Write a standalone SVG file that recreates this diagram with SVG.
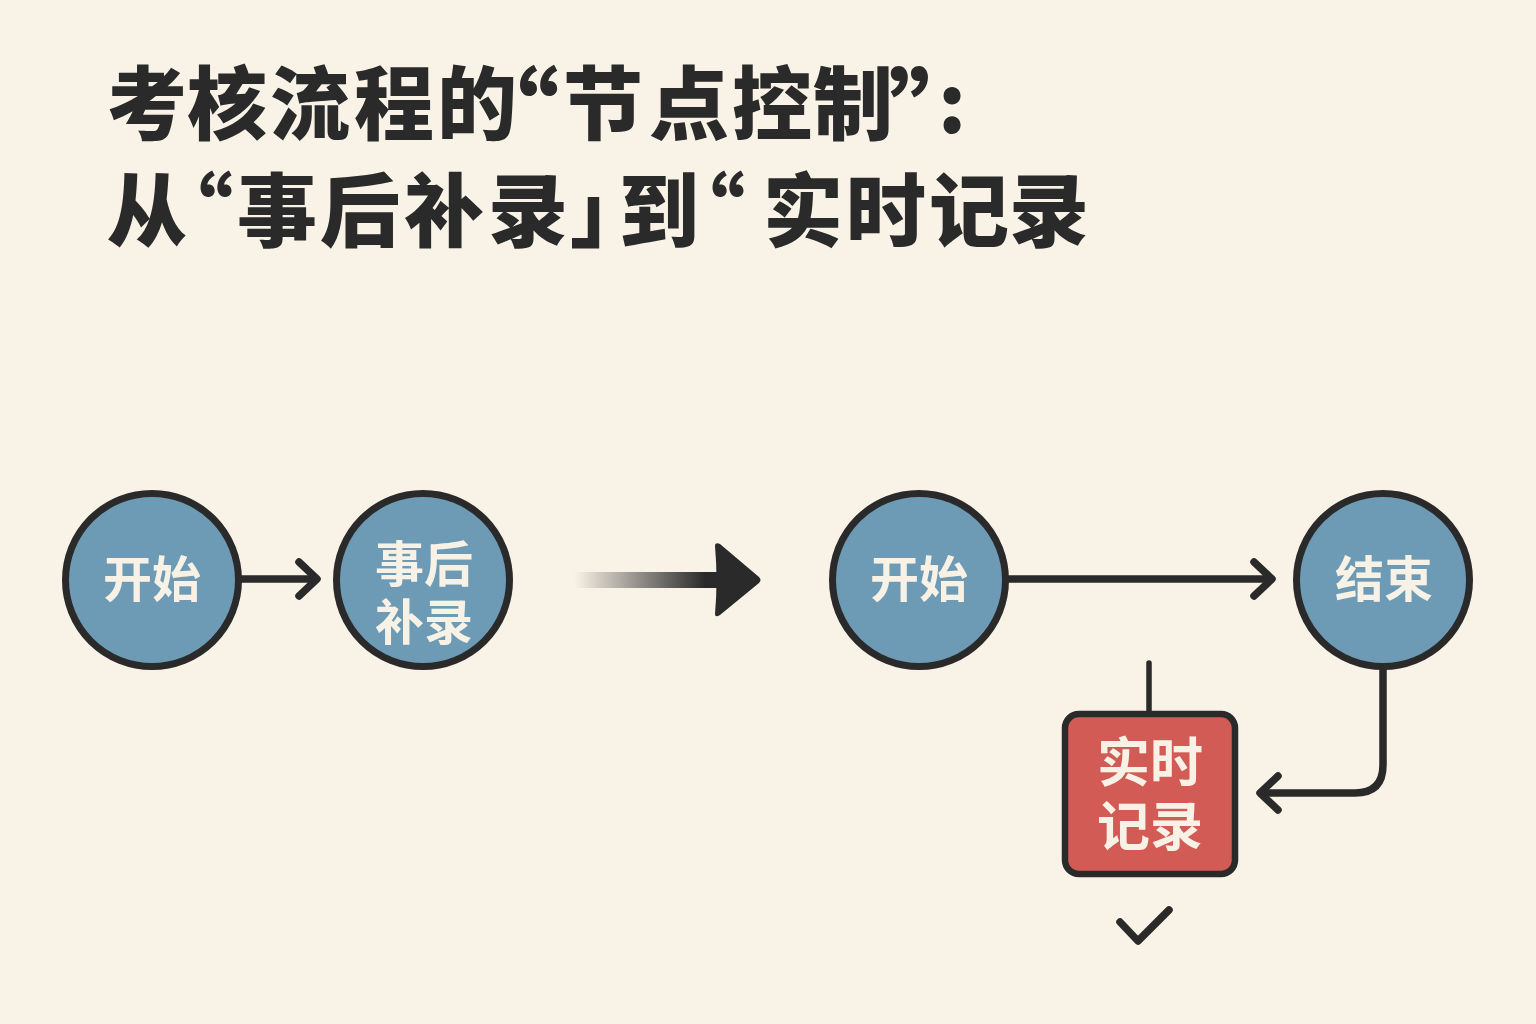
<svg xmlns="http://www.w3.org/2000/svg" width="1536" height="1024" viewBox="0 0 1536 1024">
<style>
text{font-family:"Noto Sans CJK SC","Noto Sans",sans-serif}
.title{font-size:80px;font-weight:900;fill:#2a2a2a}
.quote{font-size:96px}
.label{font-size:49px;font-weight:700;fill:#f8f2e6;text-anchor:middle}
.big{font-size:53px}
.circle{fill:#6d9bb5;stroke:#2a2a2a;stroke-width:7}
.line{fill:none;stroke:#2a2a2a;stroke-width:7.500;stroke-linecap:round;stroke-linejoin:round}
.thin{fill:none;stroke:#2a2a2a;stroke-width:5.500;stroke-linecap:round}
</style>
<defs>
<linearGradient id="fade" x1="574" x2="720" y1="0" y2="0" gradientUnits="userSpaceOnUse">
<stop offset="0" stop-color="#2a2a2a" stop-opacity="0"/>
<stop offset="0.9" stop-color="#2a2a2a"/>
</linearGradient>
</defs>
<rect id="background" width="1536" height="1024" fill="#f9f3e7"/>
<g id="title">
<text class="title" y="133"><tspan x="107 187 270 354 437">考核流程的</tspan><tspan class="quote" y="148" x="463">“</tspan><tspan y="133" x="563 649 732 813">节点控制</tspan><tspan class="quote" y="148" x="889">”</tspan><tspan y="133" x="938">:</tspan></text>
<text class="title" y="240"><tspan x="107">从</tspan><tspan x="153">“</tspan><tspan x="237 320 404 488 570 619">事后补录」到</tspan><tspan x="665">“</tspan><tspan x="763 846 929 1009">实时记录</tspan></text>
</g>
<g id="connectors">
<path class="line" d="M241 579H316"/>
<path class="line" d="M299 562L317 579L299 596"/>
<rect x="574" y="572" width="146" height="16" fill="url(#fade)"/>
<path d="M715 546Q715 542 720 544L759 577Q762 580 759 583L720 615Q715 618 715 614Q718 580 715 546Z" fill="#2a2a2a"/>
<path class="line" d="M1008 579H1271"/>
<path class="line" d="M1254 562L1272 579L1254 596"/>
<path class="thin" d="M1149 663V712"/>
<path class="line" d="M1383 668V765Q1383 793 1355 793H1262"/>
<path class="line" d="M1278 776L1260 793L1278 810"/>
</g>
<g id="node-start-a"><circle class="circle" cx="152" cy="580" r="86.500"/><text class="label" x="152" y="597">开始</text></g>
<g id="node-backfill"><circle class="circle" cx="423" cy="580" r="86.500"/><text class="label"><tspan x="424" y="582">事后</tspan><tspan x="424" y="640">补录</tspan></text></g>
<g id="node-start-b"><circle class="circle" cx="919" cy="580" r="86.500"/><text class="label" x="919" y="597">开始</text></g>
<g id="node-end"><circle class="circle" cx="1383" cy="580" r="86.500"/><text class="label" x="1384" y="597">结束</text></g>
<g id="node-realtime"><rect x="1065" y="714" width="170" height="160" rx="14" fill="#d25c55" stroke="#2a2a2a" stroke-width="6.500"/><text class="label big"><tspan x="1150" y="782">实时</tspan><tspan x="1150" y="846">记录</tspan></text></g>
<path id="check" class="line" d="M1120 922L1138 941L1169 910"/>
</svg>
